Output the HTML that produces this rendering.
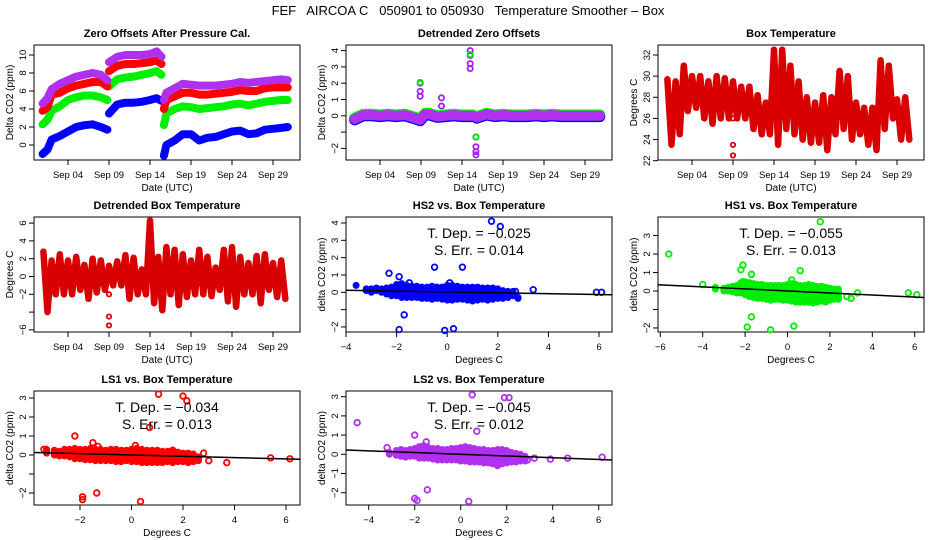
<!DOCTYPE html>
<html><head><meta charset="utf-8"><style>
html,body{margin:0;padding:0;background:#fff;}
svg{display:block;font-family:"Liberation Sans",sans-serif;}
</style></head><body>
<svg id="chart" width="936" height="540" viewBox="0 0 936 540" xmlns="http://www.w3.org/2000/svg">
<text x="468" y="15" text-anchor="middle" font-size="13" xml:space="preserve">FEF   AIRCOA C   050901 to 050930   Temperature Smoother – Box</text>
</svg>
<script>
// ---- data ----
const zoDays=[0.9,1.5,2,3,4,5,6,7,8,8.8,null,9,10,11,12,13,14,14.8,15.4,null,15.7,16,17,18,19,20,21,22,23,24,25,26,27,28,29,30,30.8];
const zoBlue=[-1,-0.5,0.6,1,1.5,2,2.2,2.3,2,1.7,null,3.5,4.5,4.7,4.7,4.8,5,5.2,4.9,null,-1.2,0,0.5,1.2,1.2,0.5,0.8,0.9,1.2,1.5,1.6,1.2,1.3,1.7,1.8,1.9,2];
const zoGreen=[2.3,2.8,3.8,4.3,5,5.3,5.5,5.5,5.3,5,null,6.5,7.3,7.5,7.6,7.8,8,8.2,7.8,null,2.2,3.5,4,4.3,4.2,4,4.1,4.2,4.3,4.5,4.6,4.4,4.6,4.8,4.9,5,5];
const zoRed=[3.8,4.2,5.6,5.8,6.3,6.6,6.8,7,7,6.5,null,8.2,8.8,9,9,9.1,9.2,9.4,9,null,4,5,5.4,5.8,5.8,5.6,5.6,5.7,5.8,5.9,6.1,6,6,6.3,6.4,6.4,6.4];
const zoPurple=[4.6,5.2,6.2,6.8,7.2,7.6,7.8,8,7.8,7.2,null,9.2,9.8,10,10,10,10.1,10.4,9.8,null,5,5.8,6.3,6.8,6.7,6.6,6.6,6.6,6.7,6.8,7,6.9,7,7.1,7.2,7.3,7.2];
const dzDays=[0.9,2,3,4,5,6,7,8,8.9,9.5,10,11,12,13,14,15.3,null,15.8,17,18,19,20,21,22,23,24,25,26,27,28,29,30,30.8];
const dzPurple=[-0.2,0.05,0.05,0,0.05,0,0.05,-0.1,-0.25,0.1,0.1,-0.05,0,0.05,0,0,null,-0.1,0.1,0,0.05,0,0,0,0.05,0,0.05,0,0,0,0,0,0];
const dzSpikeDays=[8.9,8.9,8.9,11.5,11.5,15,15,15,15,15.7,15.7,15.7,15.7];
const dzSpikeVals=[2.0,1.5,1.2,1.1,0.6,4.0,3.7,3.2,2.9,-1.3,-1.9,-2.2,-2.4];
const tDays=[1,2,3,4,5,6,7,8,9,10,11,12,13,14,15,16,17,18,19,20,21,22,23,24,25,26,27,28,29,30];
const btMin=[23.5,24.5,26.7,27,26,25.5,26,26,26,26,25,24.5,24.5,23.5,25,24.5,24,23.7,23.7,23,24.5,25,24,24.5,23.5,23,25,26,24,24];
const btMax=[29.7,29.5,31,30,30,29.5,30,29.8,29.5,29,29,28.2,27.5,32.5,32.5,31,29.5,28,27.5,28.2,28,30.5,30,27.5,27,27,31.5,31,27.8,28];
const btOutDays=[9,9,9];
const btOutVals=[22.5,23.5,26];
const dbMin=[-4,-2,-2,-2,-1.5,-2.5,-1.8,-1.5,-1,-1,-2.5,-2,-2,-3,-3.8,-2,-3.2,-2.3,-2,-2,-2.2,-1.5,-2.8,-3.4,-2,-2,-3,-1.5,-2.3,-2.5];
const dbMax=[2.8,1.8,2.5,1.8,2.2,1.3,2,1.8,1.2,1.7,2.4,2.1,0.8,6.3,2.2,3.3,3,2.5,1.8,3,2.2,1,3,3.3,2.2,1.5,2.3,2.5,1.5,1.8];
const dbOutDays=[9,9,9];
const dbOutVals=[-4.5,-5.5,-2];
const hs2X=[-3.6,-3.2,-3.0,-2.8,-2.6,-2.4,-2.2,-2.0,-1.8,-1.6,-1.4,-1.2,-1.0,-0.8,-0.6,-0.4,-0.2,0,0.2,0.4,0.6,0.8,1.0,1.2,1.4,1.6,1.8,2.0,2.2,2.4,2.6,2.8];
const hs2Hi=[0.4,0.2,0.2,0.25,0.2,0.25,0.3,0.45,0.5,0.4,0.35,0.35,0.3,0.3,0.35,0.3,0.3,0.4,0.4,0.35,0.3,0.3,0.3,0.3,0.25,0.25,0.25,0.2,0.1,0.05,0.05,-0.3];
const hs2Lo=[0.4,0.1,0.0,0.1,0.0,-0.1,-0.2,-0.2,-0.3,-0.3,-0.3,-0.3,-0.35,-0.35,-0.4,-0.35,-0.4,-0.45,-0.45,-0.4,-0.4,-0.45,-0.5,-0.45,-0.4,-0.45,-0.4,-0.35,-0.35,-0.3,-0.2,-0.35];
const hs2OutX=[-2.3,-1.9,-1.5,-0.5,0.6,1.75,2.1,-1.7,-1.9,-0.1,0.25,3.4,5.9,6.1,0.1,2.7];
const hs2OutY=[1.1,0.9,0.55,1.45,1.45,4.1,3.8,-1.3,-2.15,-2.2,-2.1,0.15,0,0,0.55,0.05];
const hs1X=[-3.4,-3.0,-2.8,-2.6,-2.4,-2.2,-2.0,-1.8,-1.6,-1.4,-1.2,-1.0,-0.8,-0.6,-0.4,-0.2,0,0.2,0.4,0.6,0.8,1.0,1.2,1.4,1.6,1.8,2.0,2.2,2.4];
const hs1Hi=[0.2,0.15,0.2,0.25,0.3,0.45,0.5,0.45,0.4,0.35,0.35,0.3,0.3,0.3,0.3,0.3,0.35,0.4,0.35,0.3,0.3,0.35,0.3,0.25,0.25,0.2,0.15,0.1,0.1];
const hs1Lo=[0.1,0.0,0.0,-0.05,-0.1,-0.1,-0.2,-0.3,-0.35,-0.4,-0.4,-0.45,-0.5,-0.45,-0.45,-0.5,-0.5,-0.55,-0.6,-0.6,-0.6,-0.6,-0.65,-0.6,-0.55,-0.6,-0.5,-0.45,-0.45];
const hs1OutX=[-5.6,-4,-2.2,-2.1,-1.7,0.6,1.55,-1.7,-1.9,-0.8,0.3,3,2.8,3.3,5.7,6.1,0.2,-2.1];
const hs1OutY=[2.0,0.35,1.15,1.4,0.9,1.1,3.75,-1.4,-1.95,-2.1,-1.9,-0.4,-0.3,-0.1,-0.1,-0.2,0.6,0.5];
const ls1X=[-3.3,-3.0,-2.8,-2.6,-2.4,-2.2,-2.0,-1.8,-1.6,-1.4,-1.2,-1.0,-0.8,-0.6,-0.4,-0.2,0,0.2,0.4,0.6,0.8,1.0,1.2,1.4,1.6,1.8,2.0,2.2,2.4,2.6];
const ls1Hi=[0.3,0.25,0.2,0.3,0.3,0.35,0.3,0.3,0.35,0.3,0.3,0.25,0.3,0.3,0.25,0.25,0.3,0.35,0.3,0.25,0.25,0.25,0.2,0.2,0.2,0.15,0.1,0.1,0.05,-0.1];
const ls1Lo=[0.1,0.0,-0.05,-0.05,-0.1,-0.2,-0.2,-0.25,-0.25,-0.3,-0.3,-0.3,-0.3,-0.35,-0.35,-0.3,-0.35,-0.35,-0.4,-0.4,-0.4,-0.4,-0.4,-0.35,-0.4,-0.35,-0.35,-0.4,-0.35,-0.3];
const ls1OutX=[-2.2,-1.5,-1.3,0.15,0.7,1.05,2,2.15,-1.9,-1.9,-1.35,0.35,2.8,3,3.7,5.4,6.15,1.6,-3.4];
const ls1OutY=[1,0.65,0.45,0.5,1.45,3.2,3.1,2.85,-2.2,-2.35,-2,-2.45,0.1,-0.3,-0.4,-0.15,-0.2,0.25,0.3];
const ls2X=[-3.1,-2.8,-2.6,-2.4,-2.2,-2.0,-1.8,-1.6,-1.4,-1.2,-1.0,-0.8,-0.6,-0.4,-0.2,0,0.2,0.4,0.6,0.8,1.0,1.2,1.4,1.6,1.8,2.0,2.2,2.4,2.6,2.8];
const ls2Hi=[0.1,0.2,0.25,0.2,0.25,0.3,0.4,0.45,0.35,0.3,0.3,0.25,0.25,0.3,0.3,0.35,0.4,0.35,0.3,0.25,0.25,0.2,0.2,0.25,0.25,0.2,0.1,0.05,0.0,-0.1];
const ls2Lo=[0.0,-0.05,-0.1,-0.15,-0.1,-0.1,-0.2,-0.2,-0.2,-0.25,-0.3,-0.3,-0.3,-0.3,-0.3,-0.35,-0.35,-0.4,-0.4,-0.4,-0.45,-0.45,-0.5,-0.6,-0.5,-0.45,-0.4,-0.4,-0.35,-0.35];
const ls2OutX=[-4.5,-3.2,-2,-1.5,0.7,0.5,1.9,2.1,-2,-1.9,-1.45,0.35,3.2,3.9,4.65,6.15,2.9];
const ls2OutY=[1.65,0.35,1,0.65,1.2,3.1,2.95,2.95,-2.3,-2.4,-1.85,-2.45,-0.2,-0.25,-0.2,-0.15,-0.3];
const fitSlopes=[-0.025,-0.055,-0.034,-0.045];
const fitInts=[0.02,0.0,0.0,0.0];
const fitErrs=[0.014,0.013,0.013,0.012];
const timeTickDays=[4,9,14,19,24,29];
const timeTickLabels=["Sep 04","Sep 09","Sep 14","Sep 19","Sep 24","Sep 29"];

const NS="http://www.w3.org/2000/svg";
const svg=document.getElementById('chart');
function mk(tag,attrs,parent){const e=document.createElementNS(NS,tag);for(const k in attrs)e.setAttribute(k,attrs[k]);(parent||svg).appendChild(e);return e;}

function panel(name,x0,x1,y0,y1,title,xlab,ylab){
  const g=mk('g',{});
  
  
  const r=mk('rect',{x:x0,y:y0,width:x1-x0,height:y1-y0,fill:'none',stroke:'#000','stroke-width':1},g);
  
  
  const t=mk('text',{x:(x0+x1)/2,y:y0-8,'text-anchor':'middle','font-size':11,'font-weight':'bold'},g);
  t.textContent=title;
  
  
  const xl=mk('text',{x:(x0+x1)/2,y:y1+31,'text-anchor':'middle','font-size':10},g);
  xl.textContent=xlab;
  
  
  const yl=mk('text',{x:0,y:0,'text-anchor':'middle','font-size':10,transform:`translate(${x0-21},${(y0+y1)/2}) rotate(-90)`},g);
  yl.textContent=ylab;
  
  
  return g;
}
function xTicks(g,fx,vals,labels,y1){
  vals.forEach((v,i)=>{
    const x=fx(v);
    const l=mk('line',{x1:x,x2:x,y1:y1,y2:y1+5,stroke:'#000'},g);
    
    
    const t=mk('text',{x:x,y:y1+18,'text-anchor':'middle','font-size':9.5},g);
    t.textContent=labels[i];
    
    
  });
}
function yTicks(g,fy,vals,labels,x0){
  vals.forEach((v,i)=>{
    const y=fy(v);
    const l=mk('line',{x1:x0-5,x2:x0,y1:y,y2:y,stroke:'#000'},g);
    
    
    if(labels[i]!==''){
      const t=mk('text',{x:0,y:0,'text-anchor':'middle','font-size':9.5,transform:`translate(${x0-8},${y}) rotate(-90)`},g);
      t.textContent=labels[i];
      
      
    }
  });
}
function series(g,xs,ys,fx,fy,color,w,name){
  let d='';let pen=false;
  xs.forEach((x,i)=>{
    if(x===null||ys[i]===null){pen=false;return;}
    d+=(pen?'L':'M')+fx(x).toFixed(1)+' '+fy(ys[i]).toFixed(1)+' ';pen=true;
  });
  const p=mk('path',{d:d,fill:'none',stroke:color,'stroke-width':w,'stroke-linejoin':'round','stroke-linecap':'round'},g);
  
  
  return p;
}
function pts(g,xs,ys,fx,fy,color,r,name){
  xs.forEach((x,i)=>{
    const c=mk('circle',{cx:fx(x),cy:fy(ys[i]),r:r,fill:'none',stroke:color,'stroke-width':1.8},g);
    
    
  });
}
function tx(x0){return d=>x0+34+(d-4)*8.2;}

{const x0=34,x1=300,y0=45,y1=160,fx=tx(x0),fy=v=>145-9*v;
 const g=panel('zero-offsets-panel',x0,x1,y0,y1,'Zero Offsets After Pressure Cal.','Date (UTC)','Delta CO2 (ppm)');
 xTicks(g,fx,timeTickDays,timeTickLabels,y1);
 yTicks(g,fy,[0,2,4,6,8,10],['0','2','4','6','8','10'],x0);
 series(g,zoDays,zoBlue,fx,fy,'#0000ff',8,'series-hs2');
 series(g,zoDays,zoGreen,fx,fy,'#00f000',8,'series-hs1');
 series(g,zoDays,zoRed,fx,fy,'#ff0000',8,'series-ls1');
 series(g,zoDays,zoPurple,fx,fy,'#b030f0',8,'series-ls2');
}
{const x0=346,x1=612,y0=45,y1=160,fx=tx(x0),fy=v=>115.8-16.3*v;
 const g=panel('detrended-zero-panel',x0,x1,y0,y1,'Detrended Zero Offsets','Date (UTC)','Delta CO2 (ppm)');
 xTicks(g,fx,timeTickDays,timeTickLabels,y1);
 yTicks(g,fy,[-2,-1,0,1,2,3,4],['−2','','0','1','2','3','4'],x0);
 series(g,dzDays,dzPurple.map(v=>v===null?null:v+0.05),fx,fy,'#00f000',11,'series-hs1-detrended');
 series(g,dzDays,dzPurple.map(v=>v===null?null:v-0.05),fx,fy,'#0000ff',11,'series-hs2-detrended');
 series(g,dzDays,dzPurple,fx,fy,'#b030f0',10,'series-ls2-detrended');
 pts(g,dzSpikeDays,dzSpikeVals,fx,fy,'#a020f0',2.6,'spike-point');
 pts(g,[8.9,15,15.7],[2.05,3.75,-1.3],fx,fy,'#00e000',2.6,'spike-point');
}
{const x0=658,x1=924,y0=45,y1=160,fx=tx(x0),fy=v=>160.7-(v-22)*10.57;
 const g=panel('box-temperature-panel',x0,x1,y0,y1,'Box Temperature','Date (UTC)','Degrees C');
 xTicks(g,fx,timeTickDays,timeTickLabels,y1);
 yTicks(g,fy,[22,24,26,28,30,32],['22','24','26','28','30','32'],x0);
 const xs=[],ys=[];tDays.forEach((d,i)=>{xs.push(d,d+0.5);ys.push(btMax[i],btMin[i]);});
 series(g,xs,ys,fx,fy,'#d80000',6.5,'box-temp-series');
 pts(g,btOutDays,btOutVals,fx,fy,'#d80000',2.2,'outlier-point');
}
{const x0=34,x1=300,y0=217,y1=332,fx=tx(x0),fy=v=>276.5-8.9*v;
 const g=panel('detrended-box-temp-panel',x0,x1,y0,y1,'Detrended Box Temperature','Date (UTC)','Degrees C');
 xTicks(g,fx,timeTickDays,timeTickLabels,y1);
 yTicks(g,fy,[-6,-4,-2,0,2,4,6],['−6','','−2','0','2','4','6'],x0);
 const xs=[],ys=[];tDays.forEach((d,i)=>{xs.push(d,d+0.5);ys.push(dbMax[i],dbMin[i]);});
 series(g,xs,ys,fx,fy,'#d80000',6.5,'detrended-temp-series');
 pts(g,dbOutDays,dbOutVals,fx,fy,'#d80000',2.2,'outlier-point');
}
function scatterPanel(name,title,x0,x1,y0,y1,fx,fy,xmin,xmax,xt,yt,ytl,cx,hi,lo,ox,oy,color,k){
  const g=panel(name,x0,x1,y0,y1,title,'Degrees C','delta CO2 (ppm)');
  xTicks(g,fx,xt,xt.map(v=>v<0?'−'+(-v):''+v),y1);
  yTicks(g,fy,yt,ytl,x0);
  cx.forEach((x,i)=>{
    const l=mk('line',{x1:fx(x),x2:fx(x),y1:fy(hi[i]),y2:fy(lo[i]),stroke:color,'stroke-width':7,'stroke-linecap':'round'},g);
    
    
  });
  pts(g,ox,oy,fx,fy,color,2.8,'scatter-point');
  const ln=mk('line',{x1:x0,x2:x1,y1:fy(fitInts[k]+fitSlopes[k]*xmin),y2:fy(fitInts[k]+fitSlopes[k]*xmax),stroke:'#000','stroke-width':1.5},g);
  
  
  const cxm=(x0+x1)/2;
  const t1=mk('text',{x:cxm,y:y0+21,'text-anchor':'middle','font-size':14},g);
  t1.textContent='T. Dep. =  −'+(-fitSlopes[k]).toFixed(3);
  
  
  const t2=mk('text',{x:cxm,y:y0+38,'text-anchor':'middle','font-size':14},g);
  t2.textContent='S. Err. =  '+fitErrs[k].toFixed(3);
  
  
}
scatterPanel('hs2-vs-temp-panel','HS2 vs. Box Temperature',346,612,217,332,v=>447.2+25.3*v,v=>292.3-17.33*v,-4,6.5,[-4,-2,0,2,4,6],[-2,-1,0,1,2,3,4],['−2','','0','1','2','3','4'],hs2X,hs2Hi,hs2Lo,hs2OutX,hs2OutY,'#0000ff',0);
scatterPanel('hs1-vs-temp-panel','HS1 vs. Box Temperature',658,924,217,332,v=>787.5+21.2*v,v=>291-18.48*v,-6.15,6.4,[-6,-4,-2,0,2,4,6],[-2,-1,0,1,2,3],['−2','','0','1','2','3'],hs1X,hs1Hi,hs1Lo,hs1OutX,hs1OutY,'#00ee00',1);
scatterPanel('ls1-vs-temp-panel','LS1 vs. Box Temperature',34,300,391,505,v=>131.5+25.75*v,v=>455-19*v,-3.79,6.54,[-2,0,2,4,6],[-2,-1,0,1,2,3],['−2','','0','1','2','3'],ls1X,ls1Hi,ls1Lo,ls1OutX,ls1OutY,'#ff0000',2);
scatterPanel('ls2-vs-temp-panel','LS2 vs. Box Temperature',346,612,391,505,v=>460.7+23*v,v=>454.3-19.2*v,-5.0,6.55,[-4,-2,0,2,4,6],[-2,-1,0,1,2,3],['−2','−1','0','1','2','3'],ls2X,ls2Hi,ls2Lo,ls2OutX,ls2OutY,'#b030f0',3);
</script>
</body></html>
